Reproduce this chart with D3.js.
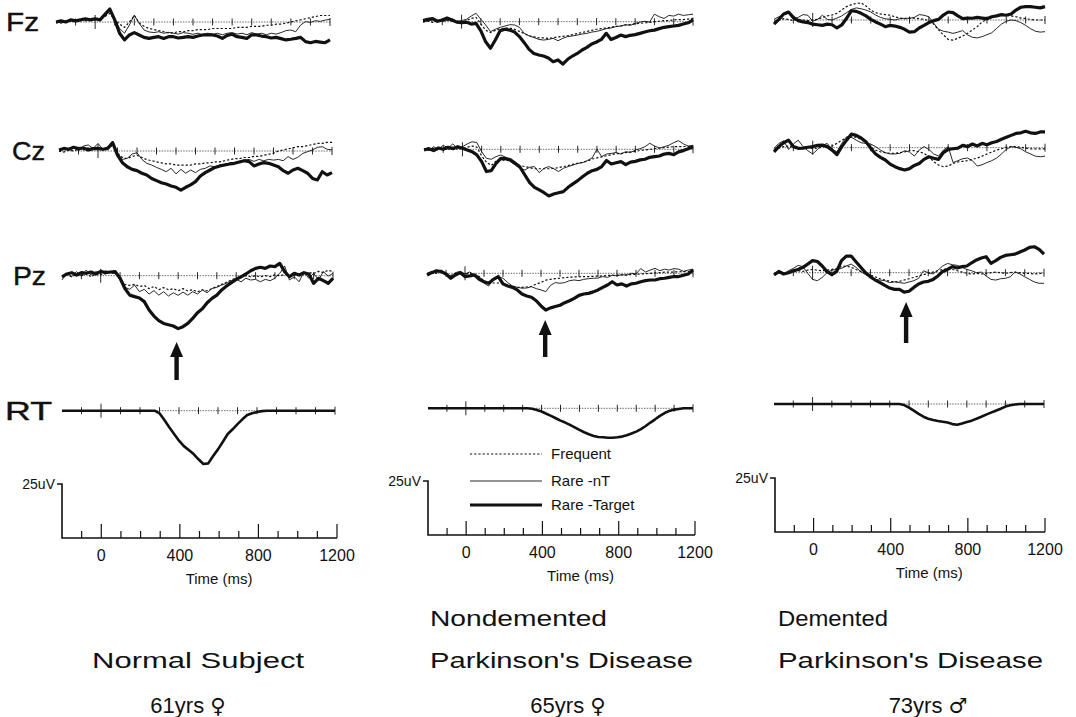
<!DOCTYPE html>
<html><head><meta charset="utf-8">
<script src="https://cdn.jsdelivr.net/npm/d3@7"></script>
<style>body{margin:0;background:#fff}svg{display:block}</style>
</head><body><svg id="c" width="1076" height="717"></svg>
<script>
// ---------- DATA (uV, positive plotted downward) ----------
const times = [-200,-175,-150,-125,-100,-75,-50,-25,0,25,50,75,100,125,150,175,200,225,250,275,300,325,350,375,400,425,450,475,500,525,550,575,600,625,650,675,700,725,750,775,800,825,850,875,900,925,950,975,1000,1025,1050,1075,1100,1125,1150,1175,1200];
const electrodes = ["Fz","Cz","Pz"];
const conditions = ["Frequent","Rare -nT","Rare -Target"];
const tickLabels = [0,400,800,1200];
const arrowTimes = [392,422,485];

// Normal subject
const normal_Fz_frequent = [0,0.5,0,-0.5,-0.5,-1,-0.5,-1, -1,-1.5,-2.5,-4,-1,1,2.5,0, -3,0.5,2,3,3.5,4,4.5,5, 5,4.5,4.5,4,4,3.5,3.5,3.5, 3,3,3,3,3,2.5,2.5,2.5, 2,2,2,1.5,1.5,1,1,0.5, 0,-0.5,-1,-1.5,-2,-2.5,-3,-3, -3];
const normal_Fz_rare = [0.5,0,-0.5,-0.5,-1,-0.5,-1,-1.5, -1,-1.5,-3,-5,-1.5,3,5.2,1.4, -3.2,0.6,3.7,4.6,4.9,4.5,5.2,4.8, 5.2,5.6,4.9,5.2,5.7,5.2,5.9,5.2, 5.7,5.2,5.9,5.2,4.9,5.6,5.2,5.9, 4.9,5.6,5.2,5.9,5.2,5.6,4.9,4, 3.7,4.5,1.4,-0.2,0.2,-0.6,-0.3,-0.9, -1.2];
const normal_Fz_target = [0,-0.5,0,-1,-0.5,-1,-1.5,-1, -1.5,-1,-3.5,-6,-1,5.2,8.3,6, 4.9,6,7.1,7.6,7.1,6.8,7.6,6.8, 6.8,7.4,7.1,6.8,7.1,6.5,6,5.9, 6,6.5,7.6,6.2,5.7,6.8,7.1,7.6, 5.9,6,6.5,6.8,7.4,7.1,7.7,8.3, 8,7.6,7.1,9.1,9.6,9,9.3,9.6, 8.3];
const normal_Cz_frequent = [0,0.5,-0.5,0,-1,-0.5,-1.5,-0.5, -1.5,-0.5,-1.5,-2.5,1,3,3.5,2.5, 2,3,4,4.5,5,5.5,6,6, 6.5,6.5,6.5,6.5,6,6,5.5,5.5, 5,5,4.5,4,3.5,3.5,3,3, 2.5,2.5,2,1.5,1,0,-0.5,-1, -1.5,-2,-2,-2.5,-3,-3.5,-3.5,-4, -4];
const normal_Cz_rare = [0.3,-1.2,-0.5,-2,0,-2.3,-2.8,-1.2, -3.5,-0.8,-2,-3.5,1.1,3.9,3.4,1.4, 0.8,3.9,5.7,6.5,7.6,8.5,9.6,8, 10.6,8.5,10.3,8.8,10,8.5,8,6.9, 7.3,6.5,6,5.7,5.4,4.8,4.2,3.9, 4.8,3.9,4.5,3.9,4.2,3.9,4.5,2.6, 3.9,2.9,1.1,0.3,-0.5,-1.7,-2,-0.8, -0.5];
const normal_Cz_target = [-0.5,-1.2,-0.8,-1.7,-1.1,-1.4,-0.5,-1.1, -1.2,-0.8,-1.2,-3.9,1.9,5.4,7.3,8.5, 9.1,10.3,11.1,12.7,13.7,14.7,15.3,16.2, 16.8,18.1,16.8,15.7,14.2,11.6,10,8.8, 7.6,6.9,6.5,6,5.7,5.1,4.5,4.9, 6.9,6,5.4,5.7,6.5,7.3,9.1,10.3, 8.8,8,9.1,10.3,12.7,13.4,9.6,11.1, 10];
const normal_Pz_frequent = [0.5,-0.5,0.5,-0.5,0,-1,0.5,-1, -0.5,-1,-1.5,-1,1.5,4,4.5,4, 5,4.5,6,5,6.5,5.5,6.5,6, 7,6,7,6.5,7.5,6.5,7,6, 5,4,3,2,1,0.5,0,0.5, 0,0.5,0,0.5,-0.5,0,-0.5,0, -0.5,-1,-0.5,-1.5,-1,-2,-1.5,-2.5, -2];
const normal_Pz_rare = [2,-1.1,0.5,-1.9,0.2,-2.6,-0.3,-1.9, -1.1,-2.3,-1.4,-1.1,1.7,5.4,6.3,4.3, 7.4,6.3,8.5,6.9,9,7.4,9.4,7.9, 9.1,7.6,9,7.4,8.5,6.6,7.9,5.9, 5.4,4.3,3.5,2.3,1.7,2.8,1.2,2, 1.7,2.8,1.7,2.3,1.2,-1.1,-4.5,2, 0.5,2.8,-1.9,1.2,-1.1,2,-1.9,0.2, -1.1];
const normal_Pz_target = [0.5,-0.8,-1.4,-0.3,-1.4,-1.1,-1.7,-0.8, -2,-1.4,-1.7,-1.9,1.2,5.9,9,9.7, 10.3,12,15.9,18.7,20.8,22.1,22.7,23.3, 24.5,23.6,22.1,19.8,17.1,15.3,12.5,10.5, 9,6.6,4.8,3.2,1.7,0.5,-0.8,-2.3, -3.4,-3.9,-3.4,-4.5,-4.2,-5.7,-1.9,0.5, -1.1,-0.3,-1.4,-0.8,3.5,1.2,2.3,3.5, 1.2];
const normal_RT = [0,0,0,0,0,0,0,0, 0,0,0,0,0,0,0,0, 0,0,0,0,1.2,4.3,7.7,10.8, 13.9,16.4,18.2,20.1,22.5,24.7,24.4,21, 17.9,14.4,10.8,8.6,6.2,4,2,1.2, 0.6,0.2,0,0,0,0,0,0, 0,0,0,0,0,0,0,0, 0];

// Nondemented Parkinson's disease
const nondem_Fz_frequent = [0.2,-0.3,0.3,-0.5,0,-0.8,-0.3,0.3, 0,-0.5,-1.5,-2,1,4,5,4, 3.2,3,3,3.5,4.5,5.5,6.5,7, 7.5,7.5,7.7,7.5,7,6.8,6.5,6, 5.5,5,4.5,4,3.5,3.2,3,2.5, 2.2,2,1.5,1.3,1,0.8,0.5,0.3, 0,-0.2,-0.5,-0.5,-0.8,-1,-1,-1.2, -1.5];
const nondem_Fz_rare = [0,-0.5,-0.8,0.2,-1.1,-0.5,-1.4,-0.2, -0.5,-1.1,-2.6,-3.9,-1.1,1.5,4.6,3.5, 2.6,2,1.4,1.5,2.6,5.4,6.6,7.3, 8.2,8.5,8.2,7.7,8.8,7.7,6.9,6.6, 6.2,5.7,5.4,4.8,4.5,3.9,3.2,2.9, 2.3,2,1.4,1.7,0.8,0.2,-0.2,0.2, -3.5,-2.3,-1.5,-2.9,-2.6,-3.5,-2.9,-3.2, -3.5];
const nondem_Fz_target = [-0.5,-1.1,-1.4,-0.2,-0.8,-1.7,-0.8,0.2, 0.5,0.2,1.1,0.8,4.2,9.3,12.3,8.5, 4.2,3.5,3.9,4.8,6.9,9.7,12.8,14.7, 15.4,15.9,16.8,18.5,17.7,19.6,17.4,15.9, 14.7,13.1,11.9,10.3,9.4,8.2,5.4,8.2, 7.3,6.2,6.9,6.3,6,5.4,4.8,4.2, 3.9,3.2,2.6,2.3,2,1.7,1.1,0.5, -0.8];
const nondem_Cz_frequent = [0,0.3,-0.5,0.3,-0.8,0,-1,0, -0.5,-1,-1.5,-1,3,6,7.5,5.5, 5,5,5.5,6.5,7.5,8,8.5,9, 9,9,9,8.8,8.5,8,7.5,7, 6.5,6,5.5,4.5,4,3.5,3,2.5, 2,2,1.5,1.2,1,0.5,0.3,0, -0.3,-0.5,-0.8,-1,-1.2,-1.2,-1.3,-1.3, -1.2];
const nondem_Cz_rare = [-0.3,0.6,-1.2,0,-1.9,-0.6,-2.5,-0.3, -1.2,-2.5,-3.5,-3.1,1.1,4.2,4.6,3.4, 2.6,3.7,5.7,7.3,8.8,9.6,8.3,8, 10.8,8.8,8,9,10.3,8.8,8,7.3, 6.5,6.2,5.2,4,0,3.4,2.2,1.9, 1.5,2.2,1.1,1.5,0.3,-0.3,-1.2,-2.8, -1.5,-0.6,-1.2,-1.9,-3.1,-4,-2.5,-1.5, -1.9];
const nondem_Cz_target = [0.3,-0.3,0.6,-0.6,0,-0.9,-0.3,-1.2, -0.5,0.3,1.1,2.6,5.7,10.3,9.9,6.5, 4.2,4.3,4.9,6.5,8.3,11.9,15.4,17.6, 18.8,20.1,21.6,20.7,20.1,19.6,17.6,16, 14.5,12.7,11.1,9.9,9.3,8,5.2,6.8, 6.2,5.7,7.1,5.9,5.6,4.9,4.6,3.7, 3.4,3.1,2.2,1.9,2.5,1.2,0.6,-0.3, -1.2];
const nondem_Pz_frequent = [0.3,-0.5,0,-1,0.3,1,0,-0.5, 0.5,0,0.5,1.5,3.5,4.5,4.5,4.5, 4.8,5.5,6,6.5,6.5,6.3,6,5, 4.2,3.2,2.8,2.5,2.3,2,1.8,1.7, 1.6,1.5,1.5,1.4,1.3,1.2,1,1, 0.8,0.8,0.7,0.6,0.5,0.3,0.2,0, -0.2,-0.3,-0.5,-0.5,-0.6,-0.7,-0.8,-0.8, -0.8];
const nondem_Pz_rare = [0,-0.9,-0.3,-1.5,0,1.5,-0.3,-0.9, 0.3,-0.6,0.8,1.5,4.6,5.9,2.3,1.5, 2.3,4.3,5.9,6.5,6.9,6.8,6.2,7.1, 7.7,8.5,5.6,4.3,4.6,4.3,3.4,3.1, 3.4,2.8,2.5,2.3,2.2,1.5,1.9,0.9, 1.2,0.6,0.9,0,0.3,-2.2,-0.6,-1.5, -2.3,-1.2,-1.9,-1.5,-2.2,-1.9,-0.9,-1.5, -1.9];
const nondem_Pz_target = [0.8,-0.3,-1.2,-0.8,0.3,2.3,0.8,-0.3, 1.5,1.2,0.8,2.8,3.9,4.6,2.8,1.5, 4.9,5.9,6.5,7.7,9.6,10.5,11.1,12.7, 15.1,17,16,15.4,14.8,13.6,12.7,11.6, 10.2,9.6,9.3,8.6,7.7,6.5,5.4,3.9, 5.4,4.9,5.9,4.9,4.6,3.9,3.4,3.1, 3.1,2.5,2.3,1.9,1.5,1.5,0.9,0.3, -1.5];
const nondem_RT = [0,0,0,0,0,0,0,0, 0,0,0,0,0,0,0,0, 0,0,0,0,0,0,0.2,0.8, 1.5,2.5,3.5,4.6,5.7,6.6,7.7,8.8, 10,11.1,12,12.8,13.3,13.4,13.6,13.6, 13.4,13.1,12.5,11.7,10.8,9.6,8.2,6.6, 5.1,3.5,2.2,1.2,0.6,0.3,0,0, 0];

// Demented Parkinson's disease
const dem_Fz_frequent = [0.6,0,-0.6,-0.3,0.3,-0.3,0,0.3, 0,-0.3,-1.2,-1.9,-2.3,-3.1,-4.6,-6.2, -7.1,-7.7,-7.9,-6.5,-4.6,-3.4,-2.8,-2.5, -2.2,-1.5,-0.9,-0.6,-0.8,-0.9,-0.6,-0.3, 0.3,1.9,4.6,6.9,9,9.3,8.5,7.4, 6.2,4.6,3.1,0.9,-0.3,-1.2,-1.9,-2.2, -2.2,-1.9,-1.5,-0.9,-0.6,-0.3,0,0, 0];
const dem_Fz_rare = [-0.3,-1.5,-2.5,-3.1,-0.3,-1.2,-2.5,-2.2, 0.6,-0.3,-2.2,-0.3,0,-0.9,-1.9,-3.4, -4.9,-5.6,-5.2,-4.6,-3.7,-2.3,-1.2,-0.6, -0.3,0,-0.6,-0.8,-0.8,-1.2,-2.5,-2.2, -1.5,1.5,4.3,5.2,5.6,6.2,5.6,4.9, 6.9,8,8.3,7.7,6.8,5.9,3.9,1.9, 0.6,0,0.3,1.2,2.5,4,5.2,5.6, 5.4];
const dem_Fz_target = [1.9,-0.3,-2.8,-3.7,-1.2,0.3,0.9,1.2, 1.9,2.2,2.5,1.9,2.2,3.7,2.3,-0.8, -4.3,-4,-3.1,-1.9,-0.3,0.9,1.9,3.1, 2.5,2.8,3.4,4.3,5.6,5.4,3.7,2.5, 1.2,0.3,-0.3,-2.3,-3.7,-3.4,-1.9,-0.6, -0.9,-0.8,-1.2,-0.9,-0.6,-1.5,-1.9,-2.5, -2.2,-2.8,-4.6,-5.9,-6.2,-6.2,-5.9,-5.6, -6.2];
const dem_Cz_frequent = [0.8,0.2,-0.5,-0.8,-0.2,0.5,0.2,-0.2, 0.5,0.2,-0.5,-0.5,-0.8,-2,-3.5,-4.5, -5.1,-4.8,-3.9,-2,-0.2,1.1,1.9,2.3, 2.6,2.6,2.3,1.9,1.4,1.4,1.9,2.6, 4.2,6.5,8,8.8,8.5,7.3,6.6,6.3, 6,5.4,4.8,3.9,2.9,2,1.1,0.5, -0.2,-0.5,-0.5,-0.2,0.2,0.5,0.5,0.5, 0.5];
const dem_Cz_rare = [0.3,-2,-3.2,0.8,-1.7,-3.5,-0.5,1.4, 2.9,0.8,-1.1,-2,0.8,1.9,-2,-5.1, -4.8,-3.5,-2.3,-2,-1.7,-0.5,1.1,2.3, 2.9,2.9,2.6,1.4,2,3.9,1.1,-0.5, 0.8,2.9,3.9,1.1,-0.5,6.9,6,5.1, 4.8,6,8.5,7.9,6.9,6,4.8,2.9, 0.8,-0.5,-0.2,0.5,1.9,2.9,3.9,4.2, 3.9];
const dem_Cz_target = [1.9,-0.5,-2.3,-3.5,-0.5,0.3,0.2,-0.2, -0.5,-1.1,-1.2,-0.5,1.1,3.2,-0.5,-3.5, -6.3,-5.7,-4.5,-2.8,0.3,2.9,4.5,5.7, 7.6,8.8,9.7,10.3,9.7,8.2,7.3,5.4, 4.2,4.9,5.4,2.3,0.8,0.5,0.2,-1.1, -0.5,-1.7,-0.8,-2,-1.4,-2.3,-2.9,-3.9, -4.8,-5.7,-6.6,-6.9,-7.6,-6.9,-6.6,-7.3, -7.3];
const dem_Pz_frequent = [0.6,0,0.9,0.3,-0.3,-0.9,-0.6,-1.2, -1.5,-1.2,-0.9,-1.2,-1.5,-2,-2.8,-3.1, -2.5,-1.5,-0.6,0.3,1.1,1.9,2.8,3.4, 4,4.3,4,3.4,2.8,2.2,1.5,0.9, 0.3,-0.3,-0.9,-1.5,-1.9,-1.5,-0.9,-0.3, 0.3,0.6,0.3,0.6,0.3,0,-0.3,0, 0.3,0,-0.3,0,0.3,0.3,0.6,0.3, 0.3];
const dem_Pz_rare = [0.3,0,0.6,-0.9,-2,-3.4,-2.8,0.3, 3.1,3.7,2.2,0,-1.2,-1.5,-2,-3.1, -4,-2.5,-0.5,0.9,1.9,3.1,3.4,3.7, 4.6,4.2,4.6,4.9,4.3,3.7,2.6,-0.9, 0,0.6,-1.2,-3.1,-4.3,-3.7,-3.4,-2.5, -1.5,-0.9,0,-0.3,1.5,3.1,3.4,2.8, 2.6,1.9,-0.3,0.6,1.9,3.1,4.3,4.9, 4.9];
const dem_Pz_target = [1.1,-0.6,0.6,0,-0.9,-1.5,-2.5,-4, -5.6,-5.2,-3.1,-0.5,0.9,-0.6,-5.6,-7.7, -7.7,-5.1,-2.5,0,1.9,3.4,4.6,5.9, 7.1,7.7,7.7,9,8.6,6.8,5.2,4.3, 4,3.1,1.5,-0.6,-1.5,-2.8,-2.2,-2.8, -3.1,-4.6,-5.9,-6.8,-7.4,-4.3,-5.6,-7.1, -8,-8.3,-8.6,-9.6,-10.5,-11.7,-12,-10.8, -8.6];
const dem_RT = [0,0,0,0,0,0,0,0, 0,0,0,0,0,0,0,0, 0,0,0,0,0,0,0,0, 0,0,0,0.5,1.7,3.1,4.6,5.9, 6.8,7.4,7.9,8.2,8.6,9.3,9.6,9, 8.3,7.7,6.8,5.9,4.9,4,3.1,2.2, 1.2,0.6,0.2,0,0,0,0,0, 0];

const subjects = [
  {title:["Normal  Subject"], age:"61yrs", sex:"♀",
   eeg:[[normal_Fz_frequent,normal_Fz_rare,normal_Fz_target],[normal_Cz_frequent,normal_Cz_rare,normal_Cz_target],[normal_Pz_frequent,normal_Pz_rare,normal_Pz_target]], rt:normal_RT},
  {title:["Nondemented","Parkinson's Disease"], age:"65yrs", sex:"♀",
   eeg:[[nondem_Fz_frequent,nondem_Fz_rare,nondem_Fz_target],[nondem_Cz_frequent,nondem_Cz_rare,nondem_Cz_target],[nondem_Pz_frequent,nondem_Pz_rare,nondem_Pz_target]], rt:nondem_RT},
  {title:["Demented","Parkinson's Disease"], age:"73yrs", sex:"♂",
   eeg:[[dem_Fz_frequent,dem_Fz_rare,dem_Fz_target],[dem_Cz_frequent,dem_Cz_rare,dem_Cz_target],[dem_Pz_frequent,dem_Pz_rare,dem_Pz_target]], rt:dem_RT}
];

// ---------- LAYOUT ----------
const layout = [
  {axis:[62,337], rows:[[56,330],[59,332],[62,333],[62,335]], base:[22,151,275.7,410.7], axisY:538,
   arrow:[342,380], titleX:92, titleW:[212], titleY:[668], ageX:188, ageY:713},
  {axis:[428,695], rows:[[423,693],[424,693],[427,693],[428,693]], base:[21.7,149.3,273.3,408.3], axisY:535,
   arrow:[320,357], titleX:430, titleW:[177,263], titleY:[626,668], ageX:568, ageY:713},
  {axis:[775,1045], rows:[[774,1045],[774,1045],[774,1044],[774,1044]], base:[20,147.7,272.7,404], axisY:532,
   arrow:[302,343], titleX:778, titleW:[110,265], titleY:[626,668], ageX:928, ageY:713}
];
const rowLabels = ["Fz","Cz","Pz","RT"];
const rowLabelX = [6,12,13,5];
const SCALE_PX = 54; // 25 uV
const FONT = "'Liberation Sans', Arial, sans-serif";
const INK = "#111";

const svg = d3.select("#c");
svg.append("rect").attr("width",1076).attr("height",717).attr("fill","#fff");

// row labels
rowLabels.forEach((lab,i)=>{
  svg.append("text").attr("x",rowLabelX[i]).attr("y",layout[0].base[i]+9)
    .attr("font-family",FONT).attr("font-size",25).attr("fill",INK)
    .attr("stroke",INK).attr("stroke-width",0.4)
    .attr("textLength", lab==="RT"?47:33).attr("lengthAdjust","spacingAndGlyphs")
    .text(lab);
});

const styles = [
  {w:1.2, dash:"2.2,2"},
  {w:0.9, dash:null},
  {w:3.2, dash:null}
];

subjects.forEach((s,p)=>{
  const L = layout[p];
  const g = svg.append("g");
  for(let r=0;r<4;r++){
    const x = d3.scaleLinear().domain([-200,1200]).range(L.rows[r]);
    const y = d3.scaleLinear().domain([0,25]).range([L.base[r], L.base[r]+SCALE_PX]);
    g.append("line").attr("x1",x(-200)).attr("x2",x(1200)).attr("y1",y(0)).attr("y2",y(0))
      .attr("stroke","#444").attr("stroke-width",0.8).attr("stroke-dasharray","1.5,1.2");
    const tk = d3.range(-100,1201,100);
    g.selectAll(null).data(tk).enter().append("line")
      .attr("x1",d=>x(d)).attr("x2",d=>x(d))
      .attr("y1",d=>y(0)-(d===0?7:(d===1200?4:3.5)))
      .attr("y2",d=>y(0)+(d===0?7:(d===1200?4:3.5)))
      .attr("stroke",INK).attr("stroke-width",0.9);
    const line = d3.line().x((d,i)=>x(times[i])).y(d=>y(d)).curve(d3.curveLinear);
    if(r<3){
      s.eeg[r].forEach((series,c)=>{
        g.append("path").attr("d",line(series)).attr("fill","none")
          .attr("stroke",INK).attr("stroke-width",styles[c].w)
          .attr("stroke-dasharray",styles[c].dash).attr("stroke-linejoin","round");
      });
      if(r===2){
        const ax = x(arrowTimes[p]);
        const tip = L.arrow[0], tail = L.arrow[1];
        g.append("path").attr("d",
          `M${ax},${tip} L${ax+6.5},${tip+15} L${ax+2.2},${tip+15} L${ax+2.2},${tail} L${ax-2.2},${tail} L${ax-2.2},${tip+15} L${ax-6.5},${tip+15} Z`)
          .attr("fill",INK);
      }
    } else {
      g.append("path").attr("d",line(s.rt)).attr("fill","none")
        .attr("stroke",INK).attr("stroke-width",2.6).attr("stroke-linejoin","round");
    }
  }
  // bottom time axis with calibration bar
  const xa = d3.scaleLinear().domain([-200,1200]).range(L.axis);
  const ya = d3.scaleLinear().domain([0,25]).range([L.axisY, L.axisY-SCALE_PX]);
  g.append("path").attr("d",`M${xa(-200)-5},${ya(25)} L${xa(-200)},${ya(25)} L${xa(-200)},${ya(0)} L${xa(1200)},${ya(0)}`)
    .attr("fill","none").attr("stroke",INK).attr("stroke-width",1.6);
  const at = d3.range(-100,1201,100);
  g.selectAll(null).data(at).enter().append("line")
    .attr("x1",d=>xa(d)).attr("x2",d=>xa(d)).attr("y1",ya(0))
    .attr("y2",d=>ya(0)-(d%400===0?14:7))
    .attr("stroke",INK).attr("stroke-width",1.2);
  g.append("text").attr("x",xa(-200)-7).attr("y",ya(25)+5).attr("text-anchor","end")
    .attr("font-family",FONT).attr("font-size",14).attr("fill",INK).text("25uV");
  g.selectAll(null).data(tickLabels).enter().append("text")
    .attr("x",d=>xa(d)).attr("y",ya(0)+23).attr("text-anchor","middle")
    .attr("font-family",FONT).attr("font-size",16).attr("fill",INK).text(d=>d);
  g.append("text").attr("x",xa(600)).attr("y",ya(0)+46).attr("text-anchor","middle")
    .attr("font-family",FONT).attr("font-size",15).attr("fill",INK).text("Time (ms)");
  // titles
  s.title.forEach((t,k)=>{
    g.append("text").attr("x",L.titleX).attr("y",L.titleY[k])
      .attr("font-family",FONT).attr("font-size",22).attr("fill",INK)
      .attr("textLength",L.titleW[k]).attr("lengthAdjust","spacingAndGlyphs").text(t);
  });
  const ageT = g.append("text").attr("x",L.ageX).attr("y",L.ageY).attr("text-anchor","middle")
    .attr("font-family",FONT).attr("font-size",22).attr("fill",INK);
  ageT.append("tspan").text(s.age + " ");
  ageT.append("tspan").attr("font-family","'DejaVu Sans', sans-serif").attr("font-size",21).text(s.sex);
});

// legend (inside middle panel)
const legX = [470,542], legTextX = 551, legY = [454,481,505];
conditions.forEach((c,i)=>{
  svg.append("line").attr("x1",legX[0]).attr("x2",legX[1]).attr("y1",legY[i]).attr("y2",legY[i])
    .attr("stroke",INK).attr("stroke-width",styles[i].w).attr("stroke-dasharray",styles[i].dash);
  svg.append("text").attr("x",legTextX).attr("y",legY[i]+5)
    .attr("font-family",FONT).attr("font-size",15).attr("fill",INK).text(c);
});
</script></body></html>
